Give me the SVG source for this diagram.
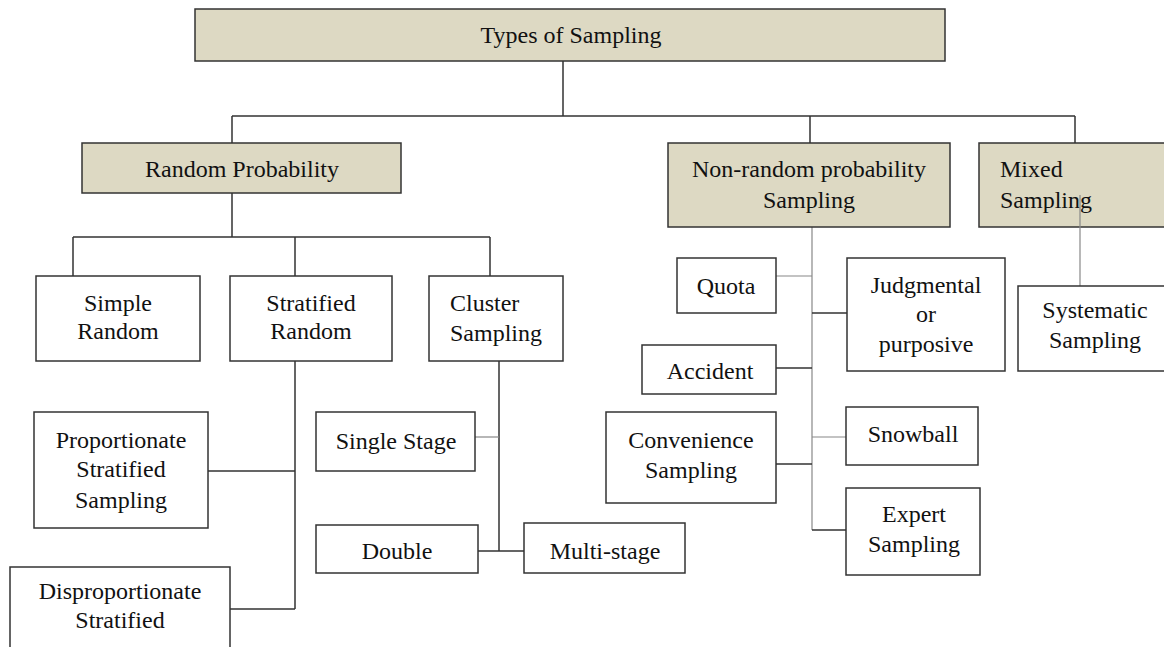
<svg xmlns="http://www.w3.org/2000/svg" width="1164" height="647" viewBox="0 0 1164 647">
<style>
text{font-family:'Liberation Serif','Times New Roman','DejaVu Serif',serif;font-size:24px;fill:#111;text-anchor:middle}
text.l{text-anchor:start}
.tan{fill:#ddd9c3;stroke:#333;stroke-width:1.5}
.box{fill:#fff;stroke:#333;stroke-width:1.5}
.c{fill:none;stroke:#333;stroke-width:1.5}
.g{fill:none;stroke:#888;stroke-width:1.2}
</style>
<rect width="1164" height="647" fill="#fff"/>
<g id="connectors">
<path class="c" d="M563 61V116M232 116H1075M232 116V143M810 116V143M1075 116V143"/>
<path class="c" d="M232 193V237M73 237H490M73 237V276M295 237V276M490 237V276"/>
<path class="c" d="M295 361V609M208 471H295M226 609H295"/>
<path class="c" d="M499 361V551M475 551H524"/>
<path class="g" d="M475 437H499"/>
<path class="g" d="M812 227V530"/>
<path class="g" d="M776 276H812M812 437H846"/>
<path class="c" d="M812 313H847M776 368H812M776 464H812M812 530H846"/>
</g>
<g font-family="Liberation Serif, serif">
<g id="n-types"><rect class="tan" x="195" y="9" width="750" height="52"/><text x="571" y="43">Types of Sampling</text></g>
<g id="n-random"><rect class="tan" x="82" y="143" width="319" height="50"/><text x="242" y="177">Random Probability</text></g>
<g id="n-nonrandom"><rect class="tan" x="668" y="143" width="282" height="84"/><text x="809" y="177">Non-random probability</text><text x="809" y="208">Sampling</text></g>
<g id="n-mixed"><rect class="tan" x="979" y="143" width="200" height="84"/><text class="l" x="1000" y="177">Mixed</text><text class="l" x="1000" y="208">Sampling</text></g>
<path class="g" d="M1080 195V286"/>
<g id="n-simple"><rect class="box" x="36" y="276" width="164" height="85"/><text x="118" y="311">Simple</text><text x="118" y="339">Random</text></g>
<g id="n-stratified"><rect class="box" x="230" y="276" width="162" height="85"/><text x="311" y="311">Stratified</text><text x="311" y="339">Random</text></g>
<g id="n-cluster"><rect class="box" x="429" y="276" width="134" height="85"/><text class="l" x="450" y="311">Cluster</text><text class="l" x="450" y="341">Sampling</text></g>
<g id="n-proportionate"><rect class="box" x="34" y="412" width="174" height="116"/><text x="121" y="448">Proportionate</text><text x="121" y="477">Stratified</text><text x="121" y="508">Sampling</text></g>
<g id="n-disproportionate"><rect class="box" x="10" y="567" width="220" height="100"/><text x="120" y="599">Disproportionate</text><text x="120" y="628">Stratified</text></g>
<g id="n-single"><rect class="box" x="316" y="412" width="159" height="59"/><text x="396" y="449">Single Stage</text></g>
<g id="n-double"><rect class="box" x="316" y="525" width="162" height="48"/><text x="397" y="559">Double</text></g>
<g id="n-multi"><rect class="box" x="524" y="523" width="161" height="50"/><text x="605" y="559">Multi-stage</text></g>
<g id="n-quota"><rect class="box" x="677" y="258" width="99" height="55"/><text x="726" y="294">Quota</text></g>
<g id="n-judgmental"><rect class="box" x="847" y="258" width="158" height="113"/><text x="926" y="293">Judgmental</text><text x="926" y="322">or</text><text x="926" y="352">purposive</text></g>
<g id="n-systematic"><rect class="box" x="1018" y="286" width="160" height="85"/><text x="1095" y="318">Systematic</text><text x="1095" y="348">Sampling</text></g>
<g id="n-accident"><rect class="box" x="642" y="345" width="134" height="49"/><text x="710" y="379">Accident</text></g>
<g id="n-convenience"><rect class="box" x="606" y="412" width="170" height="91"/><text x="691" y="448">Convenience</text><text x="691" y="478">Sampling</text></g>
<g id="n-snowball"><rect class="box" x="846" y="407" width="132" height="58"/><text x="913" y="442">Snowball</text></g>
<g id="n-expert"><rect class="box" x="846" y="488" width="134" height="87"/><text x="914" y="522">Expert</text><text x="914" y="552">Sampling</text></g>
</g>
</svg>
